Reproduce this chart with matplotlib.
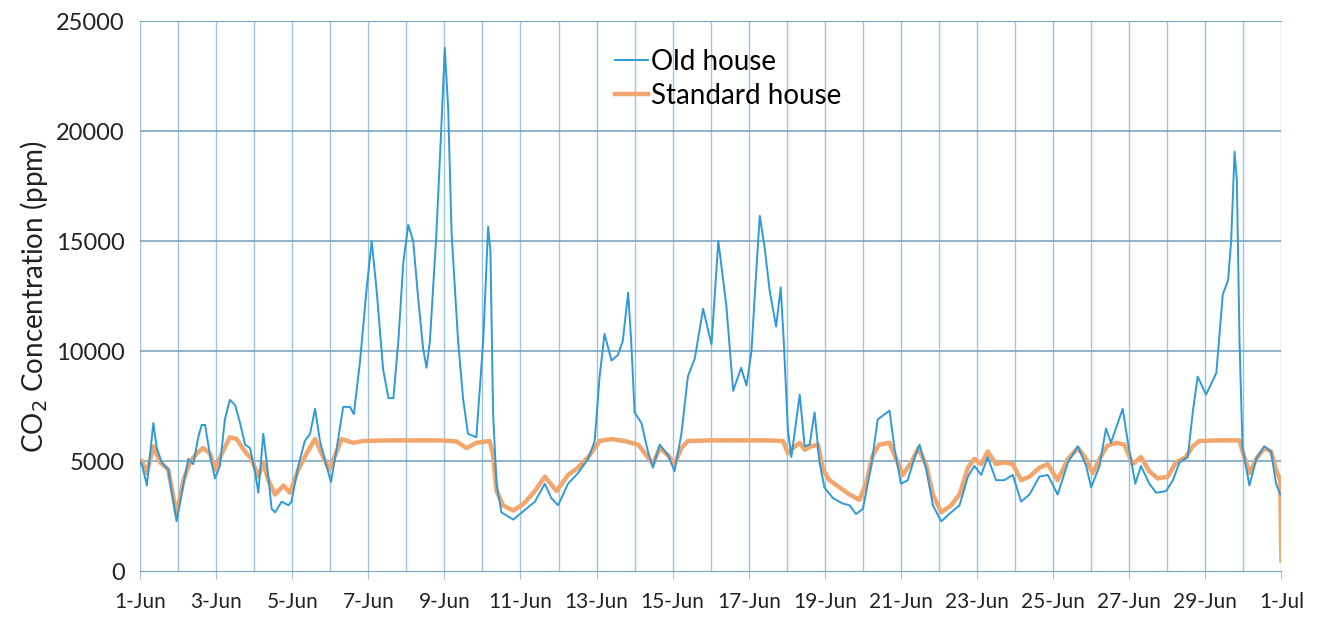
import numpy as np
import matplotlib
matplotlib.use("Agg")
import matplotlib.pyplot as plt

plt.rcParams['font.family'] = ['Lato', 'DejaVu Sans']

# days since 1-Jun, CO2 ppm
old_days = [0.0, 0.06, 0.18, 0.35, 0.44, 0.57, 0.74, 0.96, 1.09, 1.27, 1.4, 1.53, 1.62, 1.71,
            1.84, 1.97, 2.1, 2.23, 2.36, 2.5, 2.63, 2.76, 2.89, 3.02, 3.11, 3.24, 3.33, 3.46,
            3.55, 3.72, 3.9, 3.98, 4.16, 4.33, 4.47, 4.6, 4.73, 4.9, 5.02, 5.17, 5.34, 5.52,
            5.62, 5.78, 5.95, 6.09, 6.22, 6.39, 6.53, 6.66, 6.79, 6.92, 7.05, 7.18, 7.31, 7.44,
            7.53, 7.62, 7.79, 7.92, 8.01, 8.1, 8.19, 8.36, 8.49, 8.62, 8.84, 9.02, 9.15, 9.21,
            9.28, 9.37, 9.5, 9.81, 10.07, 10.38, 10.64, 10.81, 10.99, 11.25, 11.51, 11.78,
            11.95, 12.08, 12.21, 12.39, 12.56, 12.69, 12.83, 12.91, 13.0, 13.18, 13.35, 13.48,
            13.66, 13.88, 14.05, 14.23, 14.4, 14.58, 14.8, 15.02, 15.2, 15.41, 15.59, 15.8,
            15.94, 16.07, 16.2, 16.29, 16.42, 16.55, 16.72, 16.84, 16.92, 17.03, 17.12, 17.34,
            17.47, 17.6, 17.73, 17.86, 17.99, 18.21, 18.47, 18.65, 18.82, 19.0, 19.22, 19.39,
            19.7, 19.83, 20.0, 20.18, 20.36, 20.49, 20.67, 20.84, 21.06, 21.32, 21.54, 21.76,
            21.93, 22.11, 22.28, 22.5, 22.72, 22.94, 23.16, 23.38, 23.64, 23.86, 24.12, 24.39,
            24.65, 24.87, 25.0, 25.22, 25.39, 25.52, 25.7, 25.83, 25.96, 26.16, 26.31, 26.53,
            26.71, 26.97, 27.15, 27.32, 27.54, 27.67, 27.8, 28.02, 28.29, 28.46, 28.6, 28.68,
            28.77, 28.83, 28.9, 28.98, 29.16, 29.34, 29.55, 29.73, 29.86, 29.97]
old_ppm = [5000, 4790, 3900, 6735, 5600, 4950, 4625, 2270, 3490, 5110, 4870, 6090, 6650, 6650,
           5270, 4220, 4790, 6900, 7790, 7550, 6735, 5760, 5600, 4545, 3570, 6250, 4950, 2840,
           2680, 3165, 3000, 3165, 4790, 5920, 6250, 7385, 5920, 4790, 4060, 5600, 7470, 7470,
           7140, 9490, 12740, 15010, 12740, 9170, 7870, 7870, 10470, 14040, 15740, 15010, 12420, 10140,
           9250, 10470, 15340, 20200, 23780, 21020, 15340, 10470, 7870, 6250, 6090, 10470, 15660, 14530,
           7220, 3980, 2680, 2350, 2720, 3165, 3980, 3330, 3000, 3980, 4460, 5110,
           5920, 8850, 10790, 9580, 9820, 10470, 12660, 10470, 7220, 6735, 5440, 4710,
           5760, 5270, 4545, 6250, 8850, 9660, 11930, 10310, 15010, 12090, 8200, 9250,
           8440, 9980, 13710, 16150, 14690, 12740, 11120, 12900, 10470, 6410, 5190, 8030,
           5680, 5760, 7220, 4950, 3810, 3330, 3080, 3000, 2600, 2840, 4790, 6900,
           7300, 5600, 3980, 4140, 5190, 5760, 4625, 3000, 2270, 2680, 3000, 4300,
           4790, 4380, 5190, 4140, 4140, 4380, 3165, 3490, 4300, 4380, 3490, 4950,
           5680, 4790, 3810, 4790, 6490, 5840, 6735, 7385, 5920, 3980, 4790, 3980,
           3570, 3650, 4140, 4950, 5190, 7220, 8850, 8030, 9010, 12580, 13230, 15010,
           19070, 17770, 10470, 5600, 3900, 5110, 5680, 5440, 3980, 3490]

std_days = [0.0, 0.04, 0.18, 0.35, 0.53, 0.74, 0.96, 1.14, 1.31, 1.49, 1.66, 1.84, 1.97, 2.15,
            2.36, 2.54, 2.76, 2.93, 3.11, 3.24, 3.37, 3.55, 3.77, 3.94, 4.16, 4.38, 4.6, 4.77,
            4.97, 5.17, 5.3, 5.6, 5.87, 6.5, 7.2, 7.9, 8.32, 8.58, 8.84, 9.19, 9.28, 9.37,
            9.54, 9.81, 10.09, 10.38, 10.64, 10.95, 11.25, 11.51, 11.78, 12.08, 12.39, 12.74,
            13.09, 13.31, 13.48, 13.66, 13.88, 14.05, 14.23, 14.4, 15.0, 15.8, 16.5, 16.9,
            17.03, 17.16, 17.34, 17.47, 17.64, 17.82, 17.95, 18.12, 18.39, 18.65, 18.91, 19.08,
            19.26, 19.43, 19.7, 19.87, 20.05, 20.27, 20.46, 20.67, 20.84, 21.06, 21.32, 21.54,
            21.76, 21.93, 22.11, 22.28, 22.5, 22.72, 22.94, 23.16, 23.38, 23.64, 23.86, 24.12,
            24.39, 24.65, 24.87, 25.04, 25.22, 25.42, 25.65, 25.87, 26.09, 26.31, 26.53, 26.75,
            27.01, 27.23, 27.49, 27.67, 27.84, 28.3, 28.9, 28.98, 29.16, 29.34, 29.55, 29.73,
            29.86, 29.97, 30.0]
std_ppm = [5000, 5030, 4460, 5680, 4950, 4625, 2600, 4140, 4950, 5360, 5600, 5360, 4625, 5360,
           6090, 6010, 5440, 5110, 4300, 4950, 4140, 3490, 3900, 3570, 4625, 5360, 6010, 5360,
           4625, 5440, 6010, 5840, 5920, 5950, 5950, 5950, 5900, 5600, 5840, 5920, 5270, 3650,
           3000, 2760, 3080, 3650, 4300, 3650, 4380, 4710, 5190, 5920, 6010, 5920,
           5760, 5270, 4870, 5600, 5270, 4870, 5600, 5920, 5950, 5950, 5950, 5920,
           5360, 5600, 5840, 5520, 5680, 5760, 4625, 4140, 3810, 3490, 3245, 3980,
           5270, 5760, 5840, 5110, 4380, 4950, 5600, 4790, 3490, 2680, 3000, 3490,
           4710, 5110, 4870, 5440, 4870, 4950, 4870, 4140, 4300, 4710, 4870, 4140,
           5110, 5600, 5110, 4460, 5110, 5700, 5840, 5760, 4870, 5190, 4545, 4220,
           4300, 4950, 5190, 5680, 5920, 5950, 5950, 5440, 4460, 5110, 5600, 5440,
           4625, 4140, 500]

tick_days = np.arange(0, 31, 2)
tick_labels = ['1-Jun', '3-Jun', '5-Jun', '7-Jun', '9-Jun', '11-Jun', '13-Jun', '15-Jun',
               '17-Jun', '19-Jun', '21-Jun', '23-Jun', '25-Jun', '27-Jun', '29-Jun', '1-Jul']

fig = plt.figure(figsize=(13.21, 6.21), dpi=100)
ax = fig.add_axes([0.106, 0.08, 0.864, 0.886])

vgrid = '#9cc4dc'
hgrid = '#7aa7c0'
for d in range(0, 31):
    ax.axvline(d, color=vgrid, lw=1.0, zorder=0)
for v in range(5000, 25001, 5000):
    ax.axhline(v, color=hgrid, lw=1.2, zorder=0)

ax.plot(std_days, std_ppm, color='#f2a56c', lw=3.2, label='Standard house', zorder=2)
ax.plot(old_days, old_ppm, color='#2f9ad8', lw=1.4, label='Old house', zorder=3)

ax.set_xlim(0, 30)
ax.set_ylim(0, 25000)
ax.set_xticks(tick_days)
ax.set_xticklabels(tick_labels, fontsize=15, color='#222222')
ax.set_yticks(range(0, 25001, 5000))
ax.tick_params(axis='y', length=0, labelsize=17, labelcolor='#222222', pad=11)
ax.tick_params(axis='x', length=6, color=vgrid, pad=9)
for s in ['left', 'right']:
    ax.spines[s].set_visible(False)
ax.spines['top'].set_color(hgrid)
ax.spines['bottom'].set_color(hgrid)

ax.set_ylabel(r'CO$_2$ Concentration (ppm)', fontsize=20, color='#222222', labelpad=4)

h, l = ax.get_legend_handles_labels()
ax.legend(h[::-1], l[::-1], loc='upper left', bbox_to_anchor=(0.394, 0.995), frameon=False,
          fontsize=20, handlelength=1.2, handletextpad=0.1, labelspacing=0.3)

fig.savefig('out.png', dpi=100)
